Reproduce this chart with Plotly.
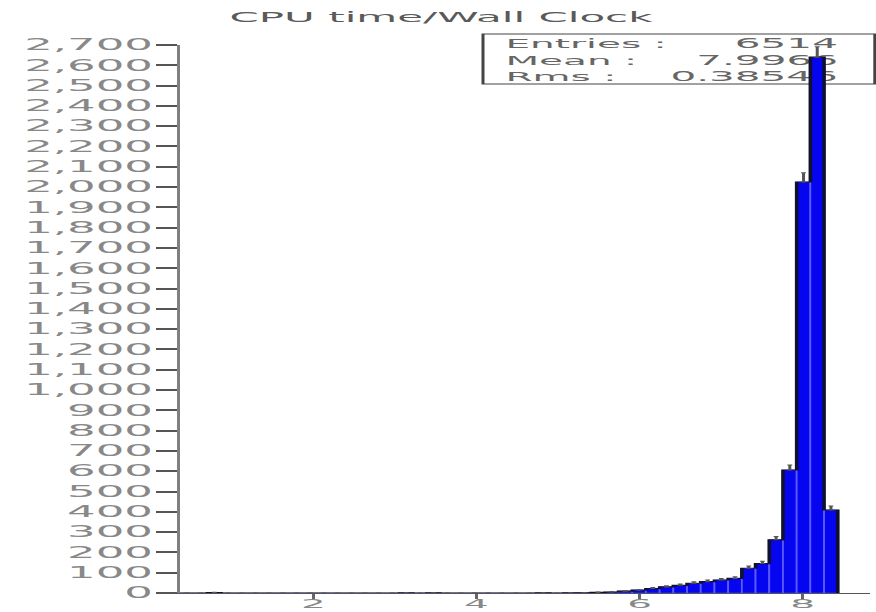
import numpy as np
import plotly.graph_objects as go

# ---------------- data ----------------
title_text = "CPU time/Wall Clock"
bin_start = 0.366
bin_width = 0.168
counts = [
    0, 0, 2, 0, 0, 0, 0, 0, 0, 0,      # bins 0-9
    0, 0, 0, 0, 0, 0, 1, 0, 1, 0,      # bins 10-19
    0, 0, 0, 0, 0, 0, 1, 0, 1, 1,      # bins 20-29
    3, 5, 9, 14, 22, 30, 38, 48, 56, 64,  # bins 30-39
    72, 122, 145, 262, 606, 2025, 2640, 409,  # bins 40-47
]
x_tick_vals = [2, 4, 6, 8]
y_tick_vals = list(range(0, 2800, 100))
stats_labels = ["Entries :", "Mean :", "Rms :"]
stats_values = ["6514", "7.9966", "0.38546"]

# ---------------- geometry (unstretched px; page is stretched 3x horizontally) ----------------
W, H = 292, 612
ML, MR, MT, MB = 60, 2, 45, 19
PW, PH = W - ML - MR, H - MT - MB
x_range = [0.366, 8.825]
y_range = [0, 2700]
dom_x = [ML / W, (W - MR) / W]
dom_y = [MB / H, (H - MT) / H]

counts_arr = np.array(counts, dtype=float)
edges = bin_start + bin_width * np.arange(len(counts) + 1)
centers = (edges[:-1] + edges[1:]) / 2

fig = go.Figure()

# stats text: full-page pixel subplot (drawn first, so the bars cover it)
rows_py = [45, 61.5, 77.5]
fig.add_trace(go.Scatter(
    x=[168.5] * 3, y=[H - p for p in rows_py], mode="text", text=stats_labels,
    textposition="middle right", hoverinfo="skip", showlegend=False,
    textfont=dict(family="DejaVu Sans", size=13, color="#666666"),
    xaxis="x", yaxis="y"))
fig.add_trace(go.Scatter(
    x=[279.3] * 3, y=[H - p for p in rows_py], mode="text", text=stats_values,
    textposition="middle left", hoverinfo="skip", showlegend=False,
    textfont=dict(family="DejaVu Sans", size=13.5, color="#666666"),
    xaxis="x", yaxis="y"))

# histogram bars
fig.add_trace(go.Bar(
    x=centers, y=counts_arr, width=bin_width,
    marker=dict(color="#0505f0", line=dict(color="#5a5aff", width=0.6)),
    xaxis="x2", yaxis="y2", showlegend=False, hoverinfo="skip", cliponaxis=False))

# histogram envelope
env_x = [edges[0]] + list(edges[:-1]) + [edges[-1]]
env_y = [0] + list(counts_arr) + [0]
fig.add_trace(go.Scatter(
    x=env_x, y=env_y, mode="lines", line=dict(color="#101030", width=1.2, shape="hv"),
    xaxis="x2", yaxis="y2", showlegend=False, hoverinfo="skip", cliponaxis=False))

# error bars
fig.add_trace(go.Scatter(
    x=centers, y=counts_arr, mode="markers",
    marker=dict(size=1, color="rgba(0,0,0,0)"),
    error_y=dict(type="data", symmetric=False, array=np.sqrt(counts_arr),
                 arrayminus=np.zeros_like(counts_arr), color="#555555", thickness=1, width=0.8),
    xaxis="x2", yaxis="y2", showlegend=False, hoverinfo="skip", cliponaxis=False))

y_tick_font = dict(family="DejaVu Sans", size=15, color="#888888")
x_tick_font = dict(family="DejaVu Sans", size=13, color="#888888")

fig.update_layout(
    width=W, height=H,
    margin=dict(l=0, r=0, t=0, b=0, pad=0, autoexpand=False),
    paper_bgcolor="white", plot_bgcolor="rgba(0,0,0,0)",
    showlegend=False,
    title=dict(text=title_text, xref="container", yref="container",
               x=147 / W, xanchor="center", y=1 - 17 / H, yanchor="middle",
               font=dict(family="DejaVu Sans", size=14, color="#5a5a5a")),
    xaxis=dict(domain=[0, 1], range=[0, W], visible=False, fixedrange=True),
    yaxis=dict(domain=[0, 1], range=[0, H], visible=False, fixedrange=True),
    xaxis2=dict(domain=dom_x, anchor="y2", range=x_range, tickvals=x_tick_vals,
                ticks="outside", ticklen=5, tickwidth=1, tickcolor="#666666",
                showline=True, linecolor="#555555", linewidth=1, showgrid=False,
                zeroline=False, tickfont=x_tick_font, ticklabelstandoff=-7, automargin=False),
    yaxis2=dict(domain=dom_y, anchor="x2", range=y_range, tickvals=y_tick_vals,
                tickformat=",", ticks="outside", ticklen=7, tickwidth=1.5,
                tickcolor="#555555", showline=True, linecolor="#808080", linewidth=1,
                showgrid=False, zeroline=False, tickfont=y_tick_font, ticklabelstandoff=-2,
                automargin=False),
    xaxis3=dict(range=x_range, overlaying="x2", anchor="y3", tickvals=x_tick_vals,
                ticks="inside", ticklen=6, tickwidth=1, tickcolor="#666666",
                showticklabels=False, showline=False, showgrid=False, zeroline=False),
    yaxis3=dict(range=y_range, overlaying="y2", anchor="x3", side="left",
                tickvals=y_tick_vals, ticks="inside", ticklen=7, tickwidth=1.5,
                tickcolor="#555555", showticklabels=False, showline=False,
                showgrid=False, zeroline=False),
    shapes=[dict(type="rect", xref="paper", yref="paper", layer="below",
                 x0=161 / W, x1=291.6 / W, y0=(H - 84) / H, y1=(H - 34) / H,
                 line=dict(color="#444444", width=1), fillcolor="rgba(0,0,0,0)")],
)

post = ("var gd=document.getElementById('{plot_id}');"
        "gd.style.transformOrigin='0 0';gd.style.transform='scaleX(3)';"
        "document.body.style.margin='0';document.body.style.overflow='hidden';")
fig.write_html("out.html", post_script=post, config={"displayModeBar": False})
